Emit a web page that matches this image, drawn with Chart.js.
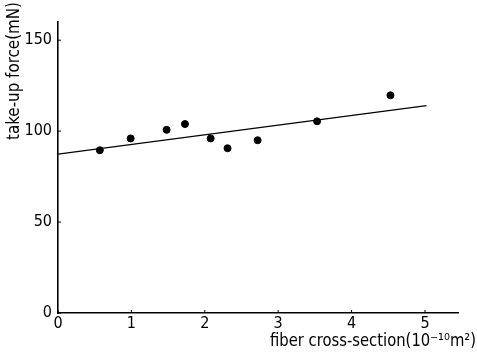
<!DOCTYPE html>
<html><head><meta charset="utf-8">
<script src="https://cdn.jsdelivr.net/npm/chart.js@4"></script>
<style>html,body{margin:0;padding:0;background:#fff}#wrap{width:477px;height:352px}</style>
</head><body><div id="wrap"><canvas id="c" width="477" height="352"></canvas></div>
<script>
const crossSection = [0.57, 0.99, 1.48, 1.73, 2.08, 2.31, 2.72, 3.53, 4.53];
const takeUpForce = [89.5, 96, 100.7, 103.9, 96, 90.6, 95, 105.4, 119.7];
const fitX = [0, 5.02];
const fitY = [87.3, 114];
const xTitle = 'fiber cross-section(10\u207B\u00B9\u2070m\u00B2)';
const yTitle = 'take-up force(mN)';
const FONT = '"DejaVu Sans Condensed","Liberation Sans",sans-serif';

function fitText(ctx, text, x, y, width) {
  const w = ctx.measureText(text).width;
  ctx.save();
  ctx.translate(x, y);
  ctx.scale(width / w, 1);
  ctx.fillText(text, 0, 0);
  ctx.restore();
}

const titlePlugin = {
  id: 'titles',
  afterDraw(chart) {
    const ctx = chart.ctx;
    ctx.save();
    ctx.fillStyle = '#000';
    ctx.font = '17px ' + FONT;
    ctx.textAlign = 'center';
    ctx.textBaseline = 'middle';
    fitText(ctx, xTitle, 373, 342, 206);
    ctx.translate(14.5, 71);
    ctx.rotate(-Math.PI / 2);
    fitText(ctx, yTitle, 0, 0, 138);
    ctx.restore();
  }
};

const tickMarks = {
  id: 'tickMarks',
  afterDraw(chart) {
    const ctx = chart.ctx, xs = chart.scales.x, ys = chart.scales.y;
    ctx.save();
    ctx.strokeStyle = '#000';
    ctx.lineWidth = 1;
    ctx.beginPath();
    xs.ticks.forEach(t => { const p = xs.getPixelForValue(t.value); ctx.moveTo(p, ys.bottom); ctx.lineTo(p, ys.bottom - 3); });
    ys.ticks.forEach(t => { const p = ys.getPixelForValue(t.value); ctx.moveTo(xs.left, p); ctx.lineTo(xs.left + 3, p); });
    ctx.stroke();
    ctx.restore();
  }
};

new Chart(document.getElementById('c'), {
  type: 'scatter',
  data: {
    datasets: [
      {
        type: 'scatter',
        data: crossSection.map((x, i) => ({x, y: takeUpForce[i]})),
        backgroundColor: '#000', borderColor: '#000', pointRadius: 3.5
      },
      {
        type: 'line',
        data: fitX.map((x, i) => ({x, y: fitY[i]})),
        borderColor: '#000', borderWidth: 1.2, pointRadius: 0, fill: false
      }
    ]
  },
  options: {
    responsive: false, animation: false, devicePixelRatio: 1,
    layout: { padding: { top: 22, right: 19, left: 0, bottom: 0 } },
    plugins: { legend: { display: false }, tooltip: { enabled: false } },
    scales: {
      x: {
        type: 'linear', min: 0, max: 5.45,
        grid: { display: false, drawTicks: false },
        border: { display: true, color: '#000', width: 1.6 },
        ticks: { stepSize: 1, includeBounds: false, color: '#000', padding: 1,
          font: { family: FONT, size: 16 } },
        afterFit(s) { s.height = 39; }
      },
      y: {
        min: 0, max: 160,
        grid: { display: false, drawTicks: false },
        border: { display: true, color: '#000', width: 1.6 },
        ticks: { stepSize: 50, includeBounds: false, color: '#000', padding: 6,
          font: { family: FONT, size: 16 } },
        afterFit(s) { s.width = 58; }
      }
    }
  },
  plugins: [titlePlugin, tickMarks]
});
</script></body></html>
